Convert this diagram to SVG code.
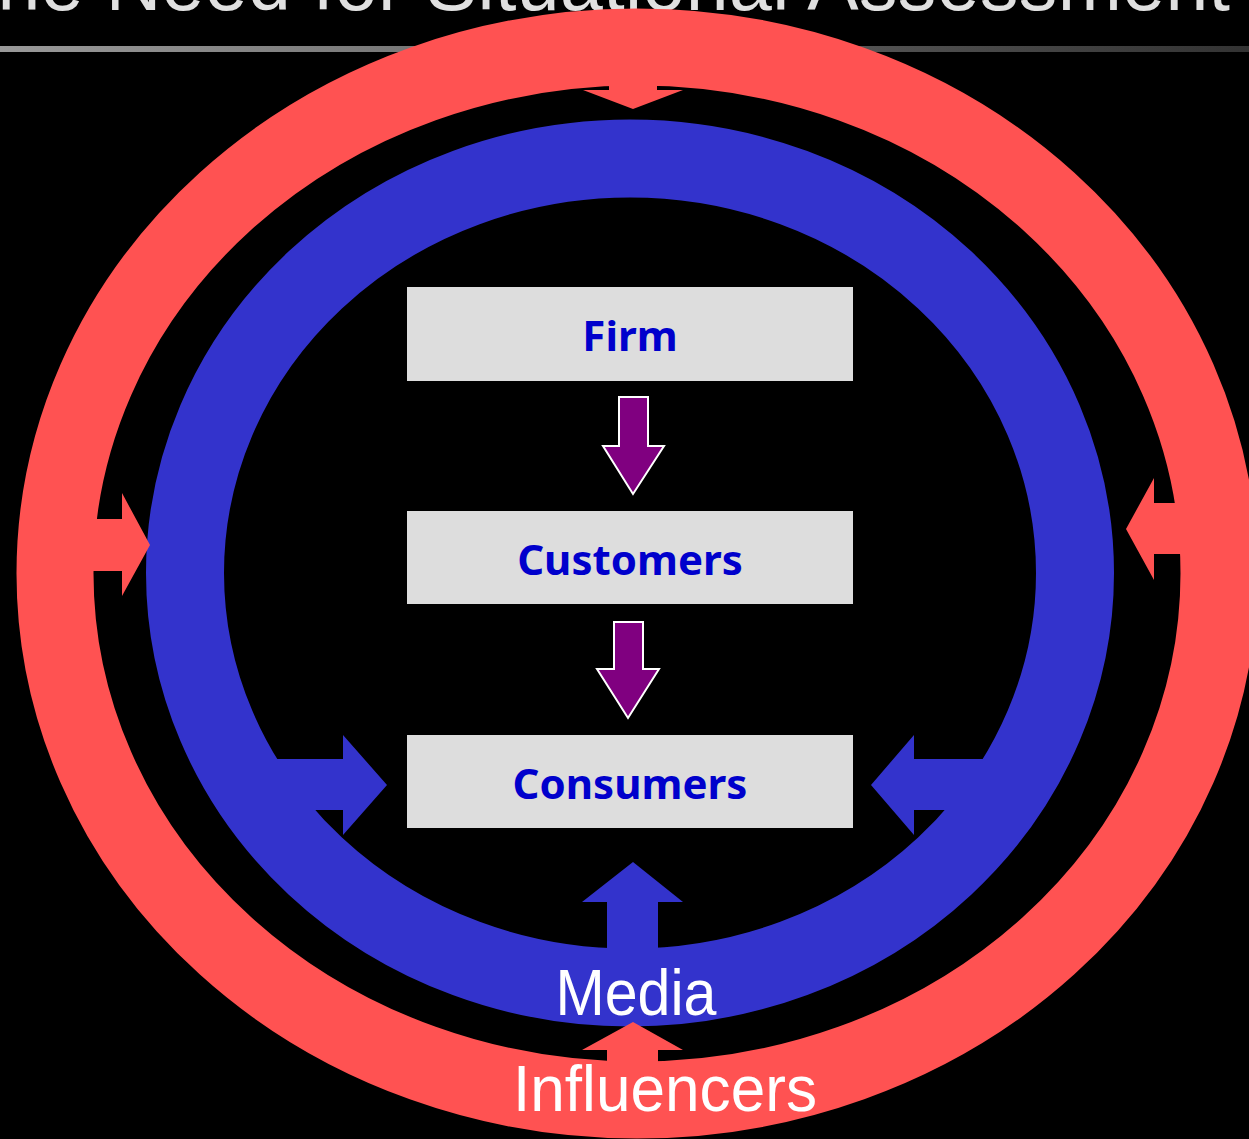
<svg xmlns="http://www.w3.org/2000/svg" width="1249" height="1139" viewBox="0 0 1249 1139">
<style>
.box{fill:#dddddd}
.lbl{font-family:"Noto Sans","DejaVu Sans",sans-serif;font-weight:bold;font-size:42px;fill:#0000cc;text-anchor:middle}
.ring-lbl{font-family:"Liberation Sans",Arial,sans-serif;font-size:64px;fill:#ffffff;text-anchor:middle}
.red{fill:#ff5252}
.blue{fill:#3333cc}
.purple{fill:#800080;stroke:#ffffff;stroke-width:2;stroke-linejoin:miter}
</style>
<defs>
<linearGradient id="rule" x1="0" y1="0" x2="1" y2="0">
<stop offset="0" stop-color="#999999"/>
<stop offset="1" stop-color="#333333"/>
</linearGradient>
</defs>
<rect width="1249" height="1139" fill="#000000"/>
<g id="title">
<text x="-50" y="10" font-family="Liberation Sans, Arial, sans-serif" font-size="77" fill="#e0e0e0" textLength="1280" lengthAdjust="spacing">The Need for Situational Assessment</text>
<rect x="0" y="46" width="1249" height="6" fill="url(#rule)"/>
</g>
<g id="influencers">
<ellipse cx="637" cy="573.5" rx="582" ry="526.5" fill="none" stroke="#ff5252" stroke-width="77"/>
</g>
<g id="media">
<ellipse cx="630" cy="573" rx="445" ry="414.5" fill="none" stroke="#3333cc" stroke-width="78"/>
</g>
<g id="connectors">
<!-- red arrows from influencers ring -->
<polygon class="red" points="609,75 657,75 657,90 683,90 633,109 583,90 609,90"/>
<polygon class="red" points="80,519 122,519 122,493 150,545 122,596 122,571 80,571"/>
<polygon class="red" points="1195,503 1154,503 1154,478 1126,529 1154,580 1154,554 1195,554"/>
<polygon class="red" points="607,1070 607,1050 582,1050 633,1022 683,1050 658,1050 658,1070"/>
<!-- blue arrows from media ring -->
<polygon class="blue" points="255,759 343,759 343,735 387,785 343,835 343,810 255,810"/>
<polygon class="blue" points="1005,759 914,759 914,735 871,785 914,835 914,810 1005,810"/>
<polygon class="blue" points="607,960 607,902 582,902 633,862 683,902 658,902 658,960"/>
<!-- purple arrows between nodes -->
<polygon class="purple" points="619,397 648,397 648,446 664,446 633,494 603,446 619,446"/>
<polygon class="purple" points="614,622 643,622 643,669 659,669 628,718 597,669 614,669"/>
</g>
<g id="media-label">
<text class="ring-lbl" x="636" y="1015" textLength="161" lengthAdjust="spacingAndGlyphs">Media</text>
</g>
<g id="influencers-label">
<text class="ring-lbl" x="665" y="1111" textLength="304" lengthAdjust="spacingAndGlyphs">Influencers</text>
</g>
<g id="firm">
<rect class="box" x="407" y="287" width="446" height="94"/>
<text class="lbl" x="630" y="351">Firm</text>
</g>
<g id="customers">
<rect class="box" x="407" y="511" width="446" height="93"/>
<text class="lbl" x="630" y="575">Customers</text>
</g>
<g id="consumers">
<rect class="box" x="407" y="735" width="446" height="93"/>
<text class="lbl" x="630" y="799">Consumers</text>
</g>
</svg>
